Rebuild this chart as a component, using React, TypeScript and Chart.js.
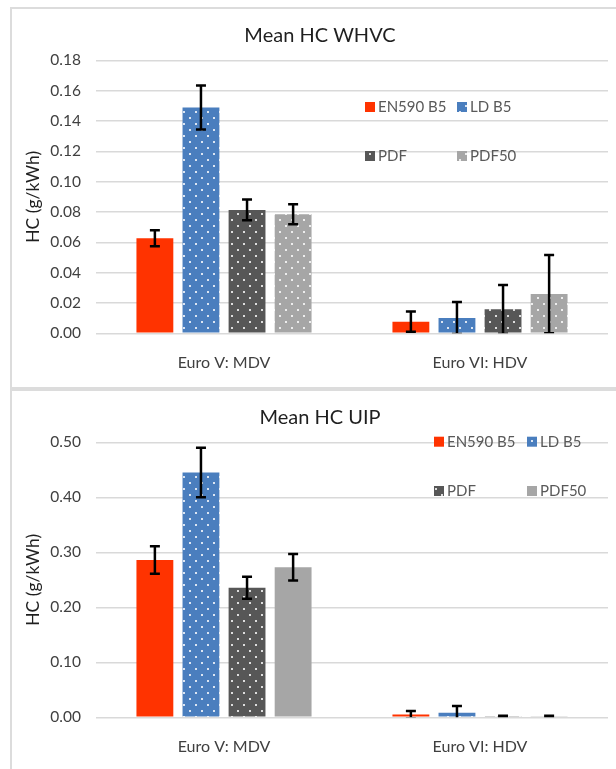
import React, { useEffect, useRef } from "react";
import { Chart, registerables } from "chart.js";

Chart.register(...registerables);

// ---------- data ----------
const categories = ["Euro V: MDV", "Euro VI: HDV"];
const seriesNames = ["EN590 B5", "LD B5", "PDF", "PDF50"];

// Mean HC WHVC (g/kWh)
const whvcEN590 = [0.0627, 0.0077];
const whvcLDB5 = [0.1489, 0.0101];
const whvcPDF = [0.0814, 0.0158];
const whvcPDF50 = [0.0785, 0.0259];
const whvcEN590Err = [0.0053, 0.0066];
const whvcLDB5Err = [0.0145, 0.0106];
const whvcPDFErr = [0.0068, 0.0161];
const whvcPDF50Err = [0.0066, 0.0258];
const whvcAxis = { max: 0.18, step: 0.02 };

// Mean HC UIP (g/kWh)
const uipEN590 = [0.286, 0.005];
const uipLDB5 = [0.445, 0.0085];
const uipPDF = [0.2357, 0.001];
const uipPDF50 = [0.2727, 0.001];
const uipEN590Err = [0.025, 0.0065];
const uipLDB5Err = [0.045, 0.012];
const uipPDFErr = [0.02, 0.002];
const uipPDF50Err = [0.024, 0.002];
const uipAxis = { max: 0.5, step: 0.1 };

// ---------- styles ----------
const RED = "#FF3300";
const BLUE = "#4A7EBE";
const DARK = "#575757";
const LIGHT = "#A6A6A6";
const GRID = "#D9D9D9";
const FONT = "Lato";

function dotted(color: string): CanvasPattern | string {
  const c = document.createElement("canvas");
  c.width = 12;
  c.height = 12;
  const g = c.getContext("2d");
  if (!g) return color;
  g.fillStyle = color;
  g.fillRect(0, 0, 12, 12);
  g.fillStyle = "rgba(255,255,255,0.8)";
  g.fillRect(3, 3, 2, 2);
  g.fillRect(9, 9, 2, 2);
  return g.createPattern(c, "repeat") || color;
}

const errorBarPlugin = {
  id: "errorBars",
  afterDatasetsDraw(chart: any) {
    const { ctx, chartArea } = chart;
    const ys = chart.scales.y;
    ctx.save();
    ctx.beginPath();
    ctx.rect(chartArea.left, chartArea.top - 30, chartArea.right - chartArea.left, chartArea.bottom - chartArea.top + 30);
    ctx.clip();
    ctx.strokeStyle = "#000";
    ctx.lineWidth = 2.5;
    chart.data.datasets.forEach((ds: any, i: number) => {
      const meta = chart.getDatasetMeta(i);
      meta.data.forEach((bar: any, j: number) => {
        const v = ds.data[j];
        const e = ds.errors[j];
        const x = bar.x;
        const yt = ys.getPixelForValue(v + e);
        const yb = ys.getPixelForValue(v - e);
        ctx.beginPath();
        ctx.moveTo(x, yt);
        ctx.lineTo(x, yb);
        ctx.moveTo(x - 5, yt);
        ctx.lineTo(x + 5, yt);
        ctx.moveTo(x - 5, yb);
        ctx.lineTo(x + 5, yb);
        ctx.stroke();
      });
    });
    ctx.restore();
  },
};

const gridLegendPlugin = {
  id: "gridLegend",
  afterDraw(chart: any, _args: any, opts: any) {
    const { ctx } = chart;
    ctx.save();
    ctx.font = `15px ${FONT}`;
    ctx.textBaseline = "middle";
    ctx.textAlign = "left";
    chart.data.datasets.forEach((ds: any, i: number) => {
      const x = opts.cols[i % 2];
      const y = opts.rows[Math.floor(i / 2)];
      ctx.fillStyle = ds.backgroundColor;
      ctx.fillRect(x, y - 5, 10, 10);
      ctx.fillStyle = "#595959";
      ctx.fillText(ds.label, x + 13, y);
    });
    ctx.restore();
  },
};

function makeConfig(
  title: string,
  values: number[][],
  errors: number[][],
  axis: { max: number; step: number },
  dottedFlags: boolean[],
  layout: { titleTop: number; titleBottom: number; xHeight: number; legendCols: number[]; legendRows: number[] }
) {
  const colors = [RED, BLUE, DARK, LIGHT];
  return {
    type: "bar",
    data: {
      labels: categories,
      datasets: seriesNames.map((name, i) => ({
        label: name,
        data: values[i],
        errors: errors[i],
        backgroundColor: dottedFlags[i] ? dotted(colors[i]) : colors[i],
        borderWidth: 0,
        categoryPercentage: 0.72,
        barPercentage: 0.8,
      })),
    },
    options: {
      animation: false,
      responsive: false,
      events: [],
      layout: { padding: { left: 32, right: 32, top: 0, bottom: 0 } },
      plugins: {
        legend: { display: false },
        tooltip: { enabled: false },
        title: {
          display: true,
          text: title,
          color: "#1F1F1F",
          font: { family: FONT, size: 20, weight: "normal", lineHeight: 1.2 },
          padding: { top: layout.titleTop, bottom: layout.titleBottom },
        },
        gridLegend: { cols: layout.legendCols, rows: layout.legendRows },
      },
      scales: {
        x: {
          grid: { display: false },
          border: { display: false },
          ticks: { color: "#404040", font: { family: FONT, size: 16 }, padding: 12.4 },
          afterFit: (s: any) => {
            s.height = layout.xHeight;
          },
        },
        y: {
          min: 0,
          max: axis.max,
          ticks: {
            stepSize: axis.step,
            color: "#404040",
            font: { family: FONT, size: 15.5 },
            padding: 15,
            callback: (v: any) => Number(v).toFixed(2),
          },
          grid: { color: GRID, lineWidth: 1.5, drawTicks: false },
          border: { display: false },
          title: {
            display: true,
            text: "HC (g/kWh)",
            color: "#1F1F1F",
            font: { family: FONT, size: 17.5, lineHeight: 1.2 },
            padding: { top: -9.5, bottom: 0 },
          },
          afterFit: (s: any) => {
            s.width = 64;
          },
        },
      },
    },
    plugins: [errorBarPlugin, gridLegendPlugin],
  };
}

function ChartCanvas({ top, height, build }: { top: number; height: number; build: () => any }) {
  const ref = useRef<HTMLCanvasElement>(null);
  useEffect(() => {
    if (!ref.current) return;
    const chart = new Chart(ref.current, build());
    return () => chart.destroy();
  }, []);
  return (
    <canvas
      ref={ref}
      width={640}
      height={height}
      style={{ position: "absolute", left: 0, top, width: 640, height }}
    />
  );
}

export default function App() {
  return (
    <div
      style={{
        position: "absolute",
        left: 0,
        top: 0,
        width: 616,
        height: 769,
        overflow: "hidden",
        background: "#fff",
      }}
    >
      <div
        style={{
          position: "absolute",
          left: 10,
          top: 7,
          width: 700,
          height: 382,
          boxSizing: "border-box",
          border: "2px solid #DCDCDC",
        }}
      />
      <div
        style={{
          position: "absolute",
          left: 10,
          top: 389,
          width: 700,
          height: 500,
          boxSizing: "border-box",
          border: "2px solid #DCDCDC",
        }}
      />
      <ChartCanvas
        top={0}
        height={389}
        build={() =>
          makeConfig(
            "Mean HC WHVC",
            [whvcEN590, whvcLDB5, whvcPDF, whvcPDF50],
            [whvcEN590Err, whvcLDB5Err, whvcPDFErr, whvcPDF50Err],
            whvcAxis,
            [false, true, true, true],
            { titleTop: 24, titleBottom: 12.4, xHeight: 55.7, legendCols: [365, 457], legendRows: [107, 156] }
          )
        }
      />
      <ChartCanvas
        top={389}
        height={380}
        build={() =>
          makeConfig(
            "Mean HC UIP",
            [uipEN590, uipLDB5, uipPDF, uipPDF50],
            [uipEN590Err, uipLDB5Err, uipPDFErr, uipPDF50Err],
            uipAxis,
            [false, true, true, false],
            { titleTop: 17, titleBottom: 12.3, xHeight: 51.7, legendCols: [434, 527], legendRows: [52.7, 102] }
          )
        }
      />
    </div>
  );
}
